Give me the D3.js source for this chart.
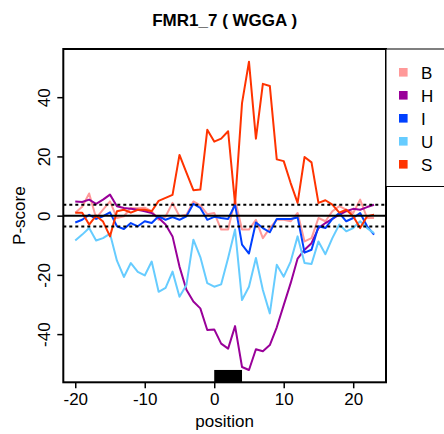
<!DOCTYPE html>
<html>
<head>
<meta charset="utf-8">
<script src="https://cdn.jsdelivr.net/npm/d3@7"></script>
<style>
  html, body { margin: 0; padding: 0; background: #fff; }
  svg { display: block; font-family: "Liberation Sans", Arial, sans-serif; }
</style>
</head>
<body>
<svg id="chart" width="444" height="434"></svg>
<script>
// Positions relative to the motif start
const positions = [-20,-19,-18,-17,-16,-15,-14,-13,-12,-11,-10,-9,-8,-7,-6,-5,-4,-3,-2,-1,
                   0,1,2,3,4,5,6,7,8,9,10,11,12,13,14,15,16,17,18,19,20,21,22,23];

// P-score per region type
const seriesB = [1,3,7.5,-0.8,2,4.8,-0.8,-0.2,2.6,2.5,2.7,1.5,-1.4,-0.3,4.3,-0.2,0.3,4.8,3.5,0.5,
                 0.9,-4.7,-4.7,5.4,-4.7,-4.7,-1.4,-7.6,-4.2,-1.4,-1.4,-1.9,0.9,-8.7,-7.6,-0.8,-1.9,1.5,3.2,2,0.9,5.4,-0.8,-0.8];
const seriesH = [4.8,4.6,5.4,4,5.4,7.1,3.2,2.6,2.3,2,1.5,0.9,-0.8,-3,-7,-17.2,-25,-29,-31.3,-38.6,
                 -38.4,-43.2,-44.9,-37.3,-51.1,-52.1,-45.1,-45.8,-43.7,-37.7,-30.2,-22.8,-14.5,-11.5,-9.3,-4.2,-2.5,-1.1,0.3,1.5,2.3,2,2.9,3.7];
const seriesI = [-2.3,-1.4,0.3,-1.1,-0.2,1.1,-3.6,-4.5,-2.5,-3.6,-1.9,-2.5,-0.2,-1.4,-0.5,-1.4,-0.2,4,2.6,-1.4,
                 -0.4,-0.8,-1.1,3.7,-9.8,-12.8,-2.3,-4.2,-5.6,-1.1,-1.1,-1.1,-0.6,-12.5,-11.5,-3.6,-4.2,-1.1,0.9,-1.9,-0.8,0.9,-3.6,-6.4];
const seriesU = [-8.4,-6.4,-4.2,-8.4,-7.6,-6.1,-15.2,-20.7,-16,-19,-20.2,-15.5,-25.7,-24.4,-18.9,-27.4,-23.4,-8.1,-14,-22.8,
                 -24,-23.2,-14.3,-4.7,-28.5,-24,-14.3,-25.1,-33,-16.6,-20.6,-15.5,-7,-16,-16.3,-8.7,-13,-7.6,-3,-5.3,-4.2,-1.9,-4.2,-5.9];
const seriesS = [1,1,-3,0,-2,-7,1.5,2,1,2,2,1.5,5,6,7,20.5,14.5,8.6,8.8,29,
                 25,26,28.5,4,38,52,26,44.5,43.8,19,18.4,11,4.3,19.8,18,4.3,5.2,3.7,1,2,-0.2,-4.2,-0.2,0.3];

const seriesNames = ["B","H","I","U","S"];
const seriesColors = ["#FF9999","#990099","#0040FF","#66CCFF","#FF3300"];
const seriesValues = [seriesB, seriesH, seriesI, seriesU, seriesS];

const xTicks = [-20,-10,0,10,20];
const yTicks = [-40,-20,0,20,40];
const threshold = 3.7;           // dotted significance band
const motifStart = 0, motifEnd = 4;

const title = "FMR1_7 ( WGGA )";
const xLabel = "position";
const yLabel = "P-score";

const svg = d3.select("#chart");
const plot = { left: 63.3, right: 386, top: 49, bottom: 382.3 };
const fmt = d => String(d);      // plain hyphen-minus labels

// Axis ranges padded by 4% like base graphics
const xMin = d3.min(positions), xMax = d3.max(positions);
const xPad = 0.04 * (xMax - xMin);
const x = d3.scaleLinear().domain([xMin - xPad, xMax + xPad]).range([plot.left, plot.right]);

const yAbs = d3.max(seriesValues.flat(), v => Math.abs(v));
const y = d3.scaleLinear().domain([-yAbs * 1.08, yAbs * 1.08]).range([plot.bottom, plot.top]);

svg.append("clipPath").attr("id", "plotclip")
  .append("rect").attr("x", plot.left).attr("y", plot.top)
  .attr("width", plot.right - plot.left).attr("height", plot.bottom - plot.top);

const g = svg.append("g").attr("clip-path", "url(#plotclip)");

const line = d3.line().x((d, i) => x(positions[i])).y(d => y(d));

seriesValues.forEach((vals, k) => {
  g.append("path")
    .datum(vals)
    .attr("d", line)
    .attr("fill", "none")
    .attr("stroke", seriesColors[k])
    .attr("stroke-width", 2)
    .attr("stroke-linejoin", "round");
});

// zero line and threshold band
g.append("line")
  .attr("x1", plot.left).attr("x2", plot.right)
  .attr("y1", y(0)).attr("y2", y(0))
  .attr("stroke", "#000").attr("stroke-width", 2);
[threshold, -threshold].forEach(t => {
  g.append("line")
    .attr("x1", plot.left).attr("x2", plot.right)
    .attr("y1", y(t)).attr("y2", y(t))
    .attr("stroke", "#000").attr("stroke-width", 2)
    .attr("stroke-dasharray", "3,3");
});

// motif marker along the bottom
g.append("rect")
  .attr("x", x(motifStart))
  .attr("width", x(motifEnd) - x(motifStart))
  .attr("y", y(-yAbs))
  .attr("height", plot.bottom - y(-yAbs))
  .attr("fill", "#000");

// plot frame
svg.append("rect")
  .attr("x", plot.left).attr("y", plot.top)
  .attr("width", plot.right - plot.left).attr("height", plot.bottom - plot.top)
  .attr("fill", "none").attr("stroke", "#000").attr("stroke-width", 2);

// x axis
const xAxis = svg.append("g")
  .attr("transform", `translate(0,${plot.bottom})`)
  .call(d3.axisBottom(x).tickValues(xTicks).tickFormat(fmt).tickSize(6).tickSizeOuter(0));
xAxis.select(".domain").remove();
xAxis.selectAll(".tick line").attr("stroke", "#000").attr("stroke-width", 1.5);
xAxis.selectAll(".tick text")
  .attr("y", 23).attr("dy", 0)
  .attr("font-size", 17).attr("fill", "#000")
  .attr("font-family", "Liberation Sans, Arial, sans-serif");

// y axis
const yAxis = svg.append("g")
  .attr("transform", `translate(${plot.left},0)`)
  .call(d3.axisLeft(y).tickValues(yTicks).tickFormat(fmt).tickSize(6).tickSizeOuter(0));
yAxis.select(".domain").remove();
yAxis.selectAll(".tick line").attr("stroke", "#000").attr("stroke-width", 1.5);
yAxis.selectAll(".tick text")
  .attr("x", 0).attr("y", 0).attr("dy", 0)
  .attr("text-anchor", "middle")
  .attr("transform", "translate(-13,0) rotate(-90)")
  .attr("font-size", 17).attr("fill", "#000")
  .attr("font-family", "Liberation Sans, Arial, sans-serif");

// titles
svg.append("text")
  .attr("x", (plot.left + plot.right) / 2).attr("y", 26)
  .attr("text-anchor", "middle")
  .attr("font-size", 17).attr("font-weight", "bold")
  .text(title);
svg.append("text")
  .attr("x", (plot.left + plot.right) / 2).attr("y", 427)
  .attr("text-anchor", "middle")
  .attr("font-size", 17)
  .text(xLabel);
svg.append("text")
  .attr("transform", `translate(25,${(plot.top + plot.bottom) / 2}) rotate(-90)`)
  .attr("text-anchor", "middle")
  .attr("font-size", 17)
  .text(yLabel);

// legend
const legend = svg.append("g");
legend.append("rect")
  .attr("x", plot.right).attr("y", 49)
  .attr("width", 80).attr("height", 137.5)
  .attr("fill", "#fff").attr("stroke", "#000").attr("stroke-width", 1);
seriesNames.forEach((name, k) => {
  const cy = 72.3 + k * 23;
  legend.append("rect")
    .attr("x", 399).attr("y", cy - 4.3)
    .attr("width", 8.6).attr("height", 8.6)
    .attr("fill", seriesColors[k]);
  legend.append("text")
    .attr("x", 421).attr("y", cy + 6.2)
    .attr("font-size", 17)
    .text(name);
});
</script>
</body>
</html>
